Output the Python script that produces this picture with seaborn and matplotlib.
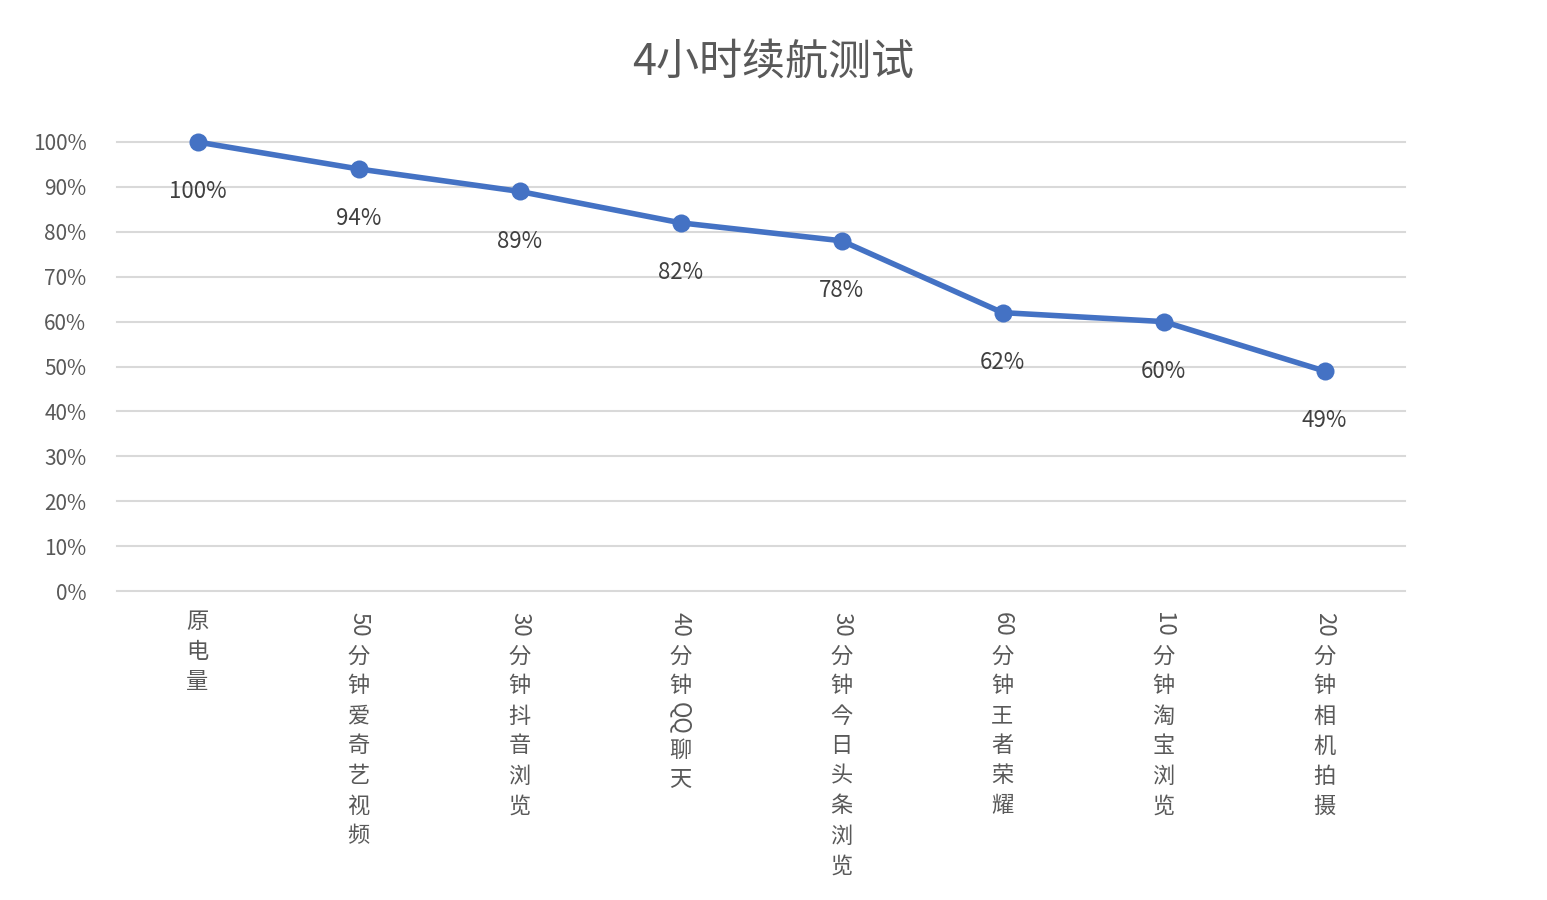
import matplotlib
matplotlib.use("Agg")
import matplotlib.pyplot as plt
from matplotlib import font_manager
import seaborn as sns
import pandas as pd

cjk_path = None
for f in font_manager.findSystemFonts():
    if "CJK" in f and ("Regular" in f or "SC" in f):
        cjk_path = f
        break
if cjk_path is None:
    for f in font_manager.findSystemFonts():
        if "CJK" in f:
            cjk_path = f
            break
if cjk_path:
    font_manager.fontManager.addfont(cjk_path)
    cjk_name = font_manager.FontProperties(fname=cjk_path).get_name()
    plt.rcParams["font.family"] = [cjk_name, "DejaVu Sans"]

categories = ["原电量", "50分钟爱奇艺视频", "30分钟抖音浏览", "40分钟QQ聊天",
              "30分钟今日头条浏览", "60分钟王者荣耀", "10分钟淘宝浏览", "20分钟相机拍摄"]
values = [1.00, 0.94, 0.89, 0.82, 0.78, 0.62, 0.60, 0.49]
labels = ["100%", "94%", "89%", "82%", "78%", "62%", "60%", "49%"]

W, H = 1547, 900
fig = plt.figure(figsize=(W / 100, H / 100), dpi=100)
ax = fig.add_axes([117 / W, 1 - 591 / H, (1405 - 117) / W, (591 - 142) / H])

df = pd.DataFrame({"x": range(len(categories)), "y": values})
sns.lineplot(data=df, x="x", y="y", ax=ax, color="#4472C4", linewidth=4,
             marker="o", markersize=13, markeredgewidth=0, clip_on=False, zorder=3)

ax.set_xlim(-0.5, len(categories) - 0.5)
ax.set_ylim(0, 1)
ax.set_yticks([i / 10 for i in range(11)])
ax.set_yticklabels([f"{i * 10}%" for i in range(11)], color="#595959", fontsize=15)
ax.set_xticks([])
ax.set_xlabel("")
ax.set_ylabel("")
ax.tick_params(axis="y", length=0, pad=22)
ax.grid(axis="y", color="#d9d9d9", linewidth=1.5)
for gl in ax.get_ygridlines():
    gl.set_clip_on(False)
ax.set_axisbelow(True)
for s in ax.spines.values():
    s.set_visible(False)

for i, (v, lab) in enumerate(zip(values, labels)):
    ax.annotate(lab, (i, v), xytext=(0, -36), textcoords="offset points",
                ha="center", va="center", color="#404040", fontsize=16)

fig.text(0.5, 1 - 62 / H, "4小时续航测试", ha="center", va="center",
         color="#595959", fontsize=31)

# vertical category labels: CJK upright, ASCII runs rotated
fig.canvas.draw()
for i, cat in enumerate(categories):
    xpix = ax.transData.transform((i, 0))[0]
    y = 607
    runs = []
    for ch in cat:
        if ch.isascii():
            if runs and runs[-1][0]:
                runs[-1][1] += ch
            else:
                runs.append([True, ch])
        else:
            runs.append([False, ch])
    for is_ascii, txt in runs:
        if is_ascii:
            h = 16 * len(txt) + 2
            fig.text(xpix / W, 1 - (y + h / 2) / H, txt, rotation=270,
                     ha="center", va="center", color="#595959", fontsize=16,
                     rotation_mode="anchor")
            y += h
        else:
            fig.text(xpix / W, 1 - (y + 15) / H, txt, ha="center", va="center",
                     color="#595959", fontsize=16)
            y += 30

fig.savefig("out.png", dpi=100)
